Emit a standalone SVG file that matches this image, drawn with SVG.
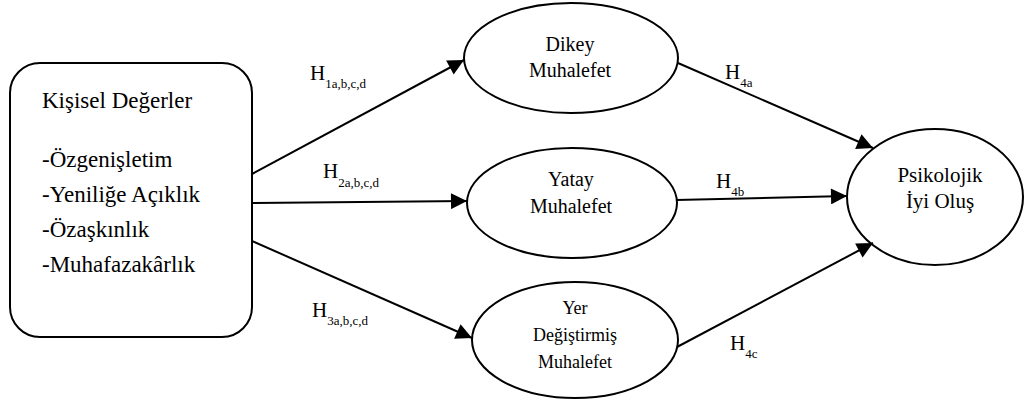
<svg xmlns="http://www.w3.org/2000/svg" width="1025" height="410" viewBox="0 0 1025 410">
<style>
.n{fill:#fff;stroke:#000;stroke-width:2}
.t{font-family:"Liberation Serif","Times New Roman",serif;fill:#000}
.c line{stroke:#000;stroke-width:2}
.lab{font-family:"Liberation Serif","Times New Roman",serif;font-size:21px;fill:#000}
.sub{font-size:13px}
</style>
<defs>
<marker id="ah" viewBox="0 0 10 10" refX="10" refY="5" markerWidth="9" markerHeight="8" markerUnits="strokeWidth" orient="auto">
<path d="M0,0 L10,5 L0,10 z" fill="#000"/>
</marker>
</defs>
<g id="kisisel">
<rect class="n" x="10" y="63" width="242" height="274" rx="30" ry="30"/>
<text class="t" font-size="23" x="42" y="108">Kişisel Değerler</text>
<text class="t" font-size="23" x="42" y="167">-Özgenişletim</text>
<text class="t" font-size="23" x="42" y="202">-Yeniliğe Açıklık</text>
<text class="t" font-size="23" x="42" y="237">-Özaşkınlık</text>
<text class="t" font-size="23" x="42" y="272">-Muhafazakârlık</text>
</g>
<g id="dikey">
<ellipse class="n" cx="571" cy="58" rx="107" ry="55"/>
<text class="t" font-size="20" text-anchor="middle" x="570" y="51">Dikey</text>
<text class="t" font-size="20" text-anchor="middle" x="570" y="77">Muhalefet</text>
</g>
<g id="yatay">
<ellipse class="n" cx="572" cy="203" rx="105" ry="55"/>
<text class="t" font-size="20" text-anchor="middle" x="571" y="186">Yatay</text>
<text class="t" font-size="20" text-anchor="middle" x="571" y="213">Muhalefet</text>
</g>
<g id="yer">
<ellipse class="n" cx="575" cy="340" rx="103" ry="58"/>
<text class="t" font-size="18" text-anchor="middle" x="575" y="314">Yer</text>
<text class="t" font-size="18" text-anchor="middle" x="575" y="341">Değiştirmiş</text>
<text class="t" font-size="18" text-anchor="middle" x="575" y="368">Muhalefet</text>
</g>
<g id="psikolojik">
<ellipse class="n" cx="935" cy="197" rx="88" ry="68"/>
<text class="t" font-size="21" text-anchor="middle" x="940" y="182">Psikolojik</text>
<text class="t" font-size="21" text-anchor="middle" x="940" y="208">İyi Oluş</text>
</g>
<g class="c" id="connectors">
<line x1="252" y1="174" x2="464" y2="60" marker-end="url(#ah)"/>
<line x1="252" y1="203" x2="467" y2="201" marker-end="url(#ah)"/>
<line x1="252" y1="241" x2="472" y2="338" marker-end="url(#ah)"/>
<line x1="678" y1="63" x2="873" y2="148" marker-end="url(#ah)"/>
<line x1="676" y1="200" x2="847" y2="196" marker-end="url(#ah)"/>
<line x1="677" y1="347" x2="873" y2="243" marker-end="url(#ah)"/>
</g>
<g id="labels">
<text class="lab" x="310" y="80">H<tspan class="sub" dy="8">1a,b,c,d</tspan></text>
<text class="lab" x="323" y="178">H<tspan class="sub" dy="9">2a,b,c,d</tspan></text>
<text class="lab" x="312" y="317">H<tspan class="sub" dy="8">3a,b,c,d</tspan></text>
<text class="lab" x="725" y="79">H<tspan class="sub" dy="8">4a</tspan></text>
<text class="lab" x="716" y="188">H<tspan class="sub" dy="8">4b</tspan></text>
<text class="lab" x="730" y="350">H<tspan class="sub" dy="8">4c</tspan></text>
</g>
</svg>
